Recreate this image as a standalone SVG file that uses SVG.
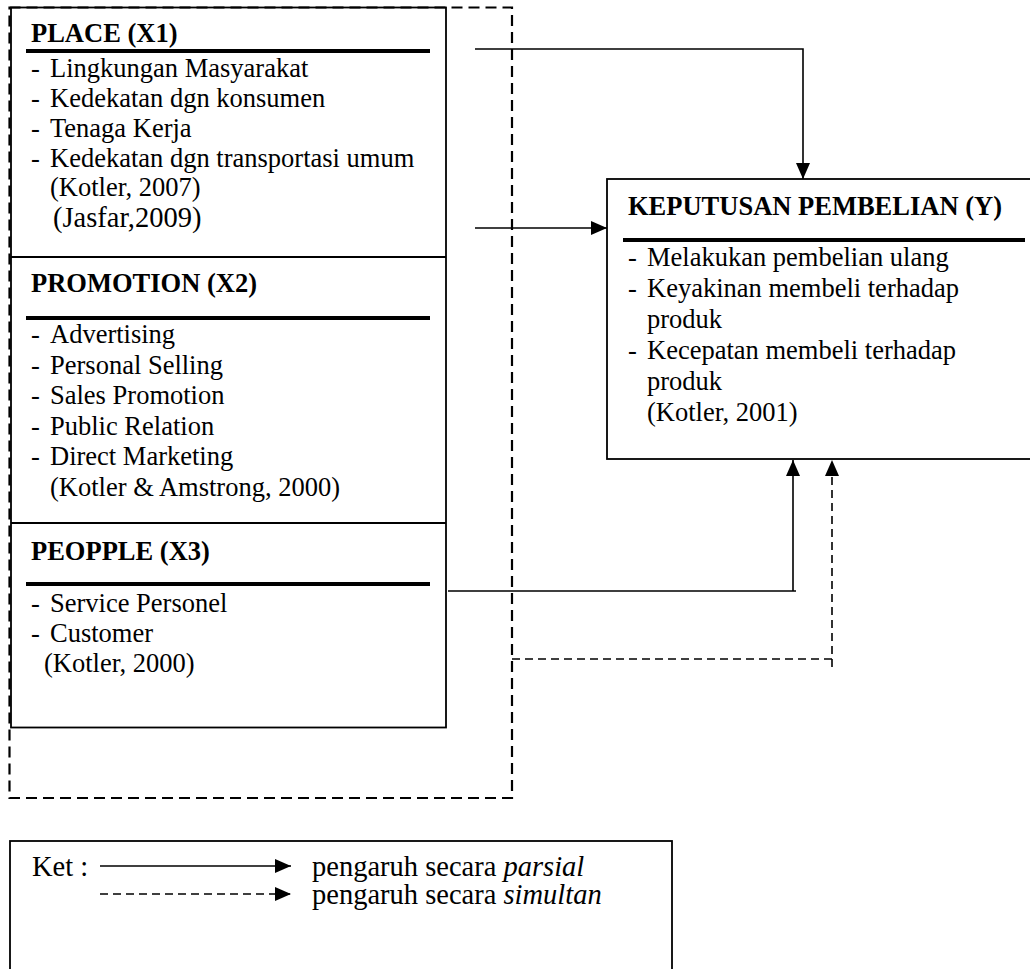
<svg xmlns="http://www.w3.org/2000/svg" width="1030" height="969" viewBox="0 0 1030 969">
<defs>
<style>
text{font-family:"Liberation Serif","Times New Roman",serif;font-size:26.5px;fill:#000}
.b{font-weight:bold}
.box{fill:#fff;stroke:#000;stroke-width:1.8}
.rule{stroke:#000;stroke-width:4}
.ln{fill:none;stroke:#000;stroke-width:1.6}
.dl{fill:none;stroke:#000;stroke-width:1.6;stroke-dasharray:8 5}
.outer{fill:none;stroke:#000;stroke-width:2.2;stroke-dasharray:11 6}
.lg{font-size:28.5px}
</style>
<marker id="ah" viewBox="0 0 16 14" refX="16" refY="7" markerWidth="16" markerHeight="14" markerUnits="userSpaceOnUse" orient="auto">
<path d="M0,0 L16,7 L0,14 z" fill="#000"/>
</marker>
</defs>
<rect width="1030" height="969" fill="#fff"/>

<g id="x-group">
<rect class="box" x="11" y="7.5" width="435" height="720"/>
<rect class="outer" x="9.5" y="7.5" width="502.5" height="790.5"/>
</g>

<g id="place">
<line class="box" x1="11" y1="257" x2="446" y2="257"/>
<text class="b" x="31" y="42">PLACE (X1)</text>
<line class="rule" x1="26" y1="51" x2="430" y2="51"/>
<text x="31" y="77">-</text><text x="50" y="77">Lingkungan Masyarakat</text>
<text x="31" y="107">-</text><text x="50" y="107">Kedekatan dgn konsumen</text>
<text x="31" y="137">-</text><text x="50" y="137">Tenaga Kerja</text>
<text x="31" y="167">-</text><text x="50" y="167">Kedekatan dgn transportasi umum</text>
<text x="50" y="196">(Kotler, 2007)</text>
<text x="53" y="227" style="font-size:28.5px">(Jasfar,2009)</text>
</g>

<g id="promotion">
<line class="box" x1="11" y1="523" x2="446" y2="523"/>
<text class="b" x="31" y="292">PROMOTION (X2)</text>
<line class="rule" x1="26" y1="318" x2="430" y2="318"/>
<text x="31" y="343">-</text><text x="50" y="343">Advertising</text>
<text x="31" y="374">-</text><text x="50" y="374">Personal Selling</text>
<text x="31" y="404">-</text><text x="50" y="404">Sales Promotion</text>
<text x="31" y="435">-</text><text x="50" y="435">Public Relation</text>
<text x="31" y="465">-</text><text x="50" y="465">Direct Marketing</text>
<text x="50" y="496">(Kotler &amp; Amstrong, 2000)</text>
</g>

<g id="people">
<text class="b" x="31" y="560">PEOPPLE (X3)</text>
<line class="rule" x1="26" y1="584" x2="430" y2="584"/>
<text x="31" y="612">-</text><text x="50" y="612">Service Personel</text>
<text x="31" y="642">-</text><text x="50" y="642">Customer</text>
<text x="44" y="672">(Kotler, 2000)</text>
</g>

<g id="keputusan">
<rect class="box" x="607" y="179" width="440" height="280"/>
<text class="b" x="628" y="215">KEPUTUSAN PEMBELIAN (Y)</text>
<line class="rule" x1="623" y1="240" x2="1025" y2="240"/>
<text x="628" y="266">-</text><text x="647" y="266">Melakukan pembelian ulang</text>
<text x="628" y="297">-</text><text x="647" y="297">Keyakinan membeli terhadap</text>
<text x="647" y="328">produk</text>
<text x="628" y="359">-</text><text x="647" y="359">Kecepatan membeli terhadap</text>
<text x="647" y="390">produk</text>
<text x="647" y="421">(Kotler, 2001)</text>
</g>

<g id="connectors">
<path class="ln" d="M475,49 H803 V179" marker-end="url(#ah)"/>
<path class="ln" d="M475,228 H607" marker-end="url(#ah)"/>
<path class="ln" d="M448,591 H796 M793,591 V460" marker-end="url(#ah)"/>
<path class="dl" d="M512,659 H836 M832,667 V460" marker-end="url(#ah)"/>
</g>

<g id="legend">
<rect class="box" x="10" y="841" width="662" height="140"/>
<text class="lg" x="32" y="876">Ket :</text>
<path class="ln" d="M100,866 H291" marker-end="url(#ah)"/>
<text class="lg" x="312" y="876">pengaruh secara <tspan font-style="italic">parsial</tspan></text>
<path class="dl" d="M100,894 H291" marker-end="url(#ah)"/>
<text class="lg" x="312" y="904">pengaruh secara <tspan font-style="italic">simultan</tspan></text>
</g>
</svg>
